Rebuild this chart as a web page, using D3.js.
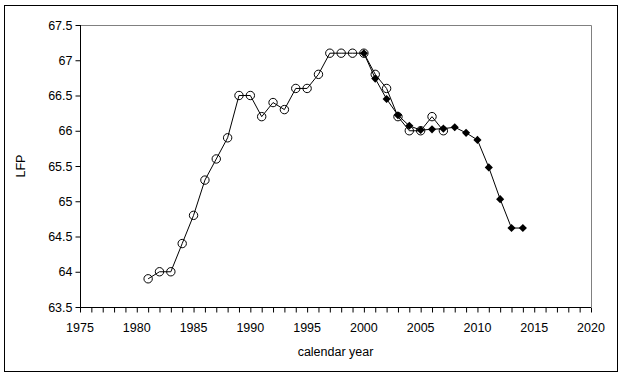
<!DOCTYPE html>
<html>
<head>
<meta charset="utf-8">
<script src="https://cdn.jsdelivr.net/npm/d3@7"></script>
<style>
  body { margin: 0; background: #fff; }
  svg { display: block; font-family: "Liberation Sans", Arial, sans-serif; }
</style>
</head>
<body>
<svg width="623" height="377"></svg>
<script>
// open circles series
const yearsA = [1981, 1982, 1983, 1984, 1985, 1986, 1987, 1988, 1989, 1990, 1991, 1992, 1993, 1994,
                1995, 1996, 1997, 1998, 1999, 2000, 2001, 2002, 2003, 2004, 2005, 2006, 2007];
const lfpA = [63.9, 64.0, 64.0, 64.4, 64.8, 65.3, 65.6, 65.9, 66.5, 66.5, 66.2, 66.4, 66.3, 66.6,
              66.6, 66.8, 67.1, 67.1, 67.1, 67.1, 66.8, 66.6, 66.2, 66.0, 66.0, 66.2, 66.0];

// filled diamonds series
const yearsB = [2000, 2001, 2002, 2003, 2004, 2005, 2006, 2007, 2008, 2009, 2010, 2011, 2012, 2013, 2014];
const lfpB = [67.1, 66.74, 66.45, 66.22, 66.07, 66.01, 66.02, 66.03, 66.05, 65.97, 65.87, 65.48, 65.03, 64.62, 64.62];

const xTicks = [1975, 1980, 1985, 1990, 1995, 2000, 2005, 2010, 2015, 2020];
const yTicks = [63.5, 64, 64.5, 65, 65.5, 66, 66.5, 67, 67.5];

const svg = d3.select("svg");
const plotL = 80, plotR = 591, plotT = 25, plotB = 307;

const x = d3.scaleLinear().domain([1975, 2020]).range([plotL, plotR]);
const y = d3.scaleLinear().domain([63.5, 67.5]).range([plotB, plotT]);

// outer frame
svg.append("rect")
    .attr("x", 4.5).attr("y", 5.5)
    .attr("width", 613).attr("height", 366)
    .attr("fill", "#fff").attr("stroke", "#000").attr("stroke-width", 1);

// plot area border (top / right in gray)
svg.append("path")
    .attr("d", `M${plotL},${plotT + 0.5}H${plotR + 0.5}V${plotB}`)
    .attr("fill", "none").attr("stroke", "#808080");

// x axis with yearly minor ticks
const xAxis = svg.append("g").attr("transform", `translate(0,${plotB + 0.5})`);
xAxis.call(d3.axisBottom(x).tickValues(d3.range(1975, 2021, 1)).tickSize(5).tickFormat(""));
xAxis.selectAll("text").remove();
xAxis.selectAll(".tick line").attr("stroke", "#000");
xAxis.select(".domain").attr("d", `M${plotL},0H${plotR}`).attr("stroke", "#000");
xAxis.selectAll(".xlab")
    .data(xTicks)
    .enter().append("text")
    .attr("class", "xlab")
    .attr("x", d => x(d))
    .attr("y", 24)
    .attr("text-anchor", "middle")
    .attr("font-size", 12.5)
    .attr("fill", "#000")
    .text(d => d);

// y axis
const yAxis = svg.append("g").attr("transform", `translate(${plotL + 0.5},0)`);
yAxis.call(d3.axisLeft(y).tickValues(yTicks).tickSize(5).tickPadding(3).tickFormat(d => d));
yAxis.select(".domain").attr("d", `M0,${plotT}V${plotB}`).attr("stroke", "#000");
yAxis.selectAll(".tick text").attr("font-size", 12.5).attr("font-family", "Liberation Sans, Arial, sans-serif").attr("fill", "#000");

// axis titles
svg.append("text")
    .attr("x", x(1997.5)).attr("y", 356)
    .attr("text-anchor", "middle")
    .attr("font-size", 12.5)
    .text("calendar year");

svg.append("text")
    .attr("transform", `translate(25,${y(65.5)}) rotate(-90)`)
    .attr("text-anchor", "middle")
    .attr("font-size", 12.5)
    .text("LFP");

const line = d3.line().x(d => x(d[0])).y(d => y(d[1]));
const dataA = yearsA.map((yr, i) => [yr, lfpA[i]]);
const dataB = yearsB.map((yr, i) => [yr, lfpB[i]]);

svg.append("path").datum(dataA)
    .attr("d", line).attr("fill", "none").attr("stroke", "#000").attr("stroke-width", 1);

svg.selectAll(".circ")
    .data(dataA)
    .enter().append("circle")
    .attr("class", "circ")
    .attr("cx", d => x(d[0])).attr("cy", d => y(d[1]))
    .attr("r", 4.2)
    .attr("fill", "none").attr("stroke", "#000").attr("stroke-width", 1);

svg.append("path").datum(dataB)
    .attr("d", line).attr("fill", "none").attr("stroke", "#000").attr("stroke-width", 1);

const diamond = d3.symbol().type(d3.symbolDiamond2).size(42);
svg.selectAll(".dia")
    .data(dataB)
    .enter().append("path")
    .attr("class", "dia")
    .attr("transform", d => `translate(${x(d[0])},${y(d[1])})`)
    .attr("d", diamond)
    .attr("fill", "#000");
</script>
</body>
</html>
